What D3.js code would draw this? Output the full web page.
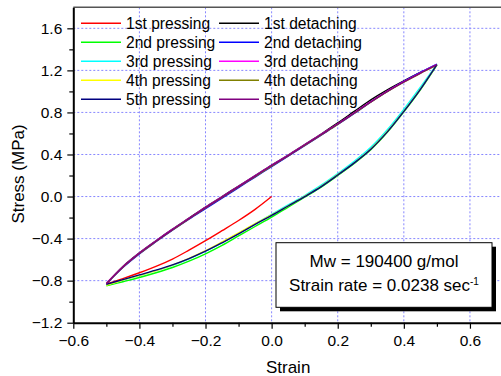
<!DOCTYPE html>
<html>
<head>
<meta charset="UTF-8" />
<script src="https://d3js.org/d3.v7.min.js"></script>
<style>
  body { margin: 0; background: #fff; }
  svg { display: block; font-family: "Liberation Sans", Arial, sans-serif; }
  .tick text { font-size: 15.5px; fill: #000; }
</style>
</head>
<body>
<svg width="501" height="376"></svg>
<script>
// strain points shared by the full branches
const strain = [-0.5, -0.45, -0.4, -0.35, -0.3, -0.25, -0.2, -0.15, -0.1, -0.05, 0,
                0.05, 0.1, 0.15, 0.2, 0.25, 0.3, 0.35, 0.4, 0.45, 0.5];
// first pressing only runs from 0 down to -0.5
const strainFirst = [-0.5, -0.45, -0.4, -0.35, -0.3, -0.25, -0.2, -0.15, -0.1, -0.05, 0];

const press1 = [-0.83, -0.78, -0.725, -0.665, -0.595, -0.51, -0.42, -0.325, -0.228, -0.122, 0.0];
const press2 = [-0.85, -0.81, -0.77, -0.725, -0.675, -0.615, -0.545, -0.465, -0.375, -0.285, -0.195,
                -0.1, -0.005, 0.09, 0.2, 0.315, 0.445, 0.61, 0.805, 1.015, 1.25];
const press3 = [-0.84, -0.795, -0.75, -0.705, -0.655, -0.592, -0.52, -0.438, -0.35, -0.26, -0.17,
                -0.08, 0.01, 0.108, 0.218, 0.335, 0.468, 0.635, 0.83, 1.04, 1.26];
const press4 = [-0.845, -0.795, -0.75, -0.705, -0.652, -0.588, -0.515, -0.432, -0.345, -0.258, -0.175,
                -0.088, 0.002, 0.098, 0.208, 0.322, 0.452, 0.618, 0.812, 1.022, 1.255];
const press5 = [-0.835, -0.79, -0.745, -0.7, -0.65, -0.59, -0.52, -0.44, -0.355, -0.265, -0.18,
                -0.09, 0.0, 0.095, 0.205, 0.32, 0.45, 0.615, 0.81, 1.02, 1.255];

const detach1 = [-0.83, -0.665, -0.535, -0.42, -0.31, -0.205, -0.1, 0.0, 0.1, 0.2, 0.3,
                 0.395, 0.495, 0.595, 0.7, 0.81, 0.92, 1.015, 1.1, 1.18, 1.255];
const detach2 = [-0.83, -0.675, -0.545, -0.43, -0.32, -0.215, -0.115, -0.015, 0.085, 0.185, 0.285,
                 0.385, 0.485, 0.585, 0.685, 0.79, 0.9, 1.0, 1.095, 1.18, 1.26];
const detach3 = [-0.825, -0.668, -0.538, -0.423, -0.313, -0.208, -0.103, -0.003, 0.097, 0.197, 0.297,
                 0.392, 0.492, 0.592, 0.692, 0.797, 0.902, 1.002, 1.092, 1.177, 1.255];
const detach4 = [-0.83, -0.672, -0.542, -0.428, -0.318, -0.212, -0.108, -0.008, 0.092, 0.19, 0.29,
                 0.387, 0.487, 0.587, 0.687, 0.792, 0.897, 0.997, 1.087, 1.172, 1.25];
const detach5 = [-0.83, -0.67, -0.54, -0.425, -0.315, -0.21, -0.105, -0.005, 0.095, 0.195, 0.295,
                 0.39, 0.49, 0.59, 0.69, 0.795, 0.9, 1.0, 1.09, 1.175, 1.255];

const seriesNames = ["1st pressing", "1st detaching", "2nd pressing", "2nd detaching",
  "3rd pressing", "3rd detaching", "4th pressing", "4th detaching", "5th pressing", "5th detaching"];
const seriesColors = ["#ff0000", "#000000", "#00ff00", "#0000ff", "#00ffff",
  "#ff00ff", "#ffff00", "#808000", "#000080", "#800080"];

const xTicks = [-0.6, -0.4, -0.2, 0.0, 0.2, 0.4, 0.6];
const xMinor = [-0.5, -0.3, -0.1, 0.1, 0.3, 0.5];
const yTicks = [-1.2, -0.8, -0.4, 0.0, 0.4, 0.8, 1.2, 1.6];
const yMinor = [-1.0, -0.6, -0.2, 0.2, 0.6, 1.0, 1.4];

const svg = d3.select("svg");
const plotL = 73.3, plotR = 503, plotT = 7.3, plotB = 322.7;

const x = d3.scaleLinear().domain([-0.6, 0.7]).range([plotL, plotR]);
const y = d3.scaleLinear().domain([-1.2, 1.8]).range([plotB, plotT]);

// grid
const grid = svg.append("g")
  .attr("stroke", "#6b6bff").attr("stroke-width", 1)
  .attr("stroke-dasharray", "2,2").attr("opacity", 0.8);
xTicks.slice(1).forEach(v => {
  grid.append("line").attr("x1", x(v)).attr("x2", x(v)).attr("y1", plotT).attr("y2", plotB);
});
yTicks.slice(1).forEach(v => {
  grid.append("line").attr("x1", plotL).attr("x2", plotR).attr("y1", y(v)).attr("y2", y(v));
});

// top frame
svg.append("line").attr("x1", plotL).attr("x2", plotR).attr("y1", plotT).attr("y2", plotT)
  .attr("stroke", "#555").attr("stroke-width", 1.5);

// curves
const curves = [
  { xs: strainFirst, ys: press1 },
  { xs: strain, ys: detach1 },
  { xs: strain, ys: press2 },
  { xs: strain, ys: detach2 },
  { xs: strain, ys: press3 },
  { xs: strain, ys: detach3 },
  { xs: strain, ys: press4 },
  { xs: strain, ys: detach4 },
  { xs: strain, ys: press5 },
  { xs: strain, ys: detach5 }
];
const line = d3.line().x(d => x(d[0])).y(d => y(d[1])).curve(d3.curveCatmullRom.alpha(0.5));
curves.forEach((c, i) => {
  svg.append("path")
    .datum(c.xs.map((v, j) => [v, c.ys[j]]))
    .attr("fill", "none")
    .attr("stroke", seriesColors[i])
    .attr("stroke-width", 1.4)
    .attr("d", line);
});

// axes
svg.append("g").attr("transform", `translate(0,${plotB})`)
  .call(d3.axisBottom(x).tickValues(xTicks).tickFormat(d3.format(".1f"))
    .tickSize(6).tickSizeOuter(0).tickPadding(6));
svg.append("g").attr("transform", `translate(0,${plotB})`)
  .call(d3.axisBottom(x).tickValues(xMinor).tickFormat("").tickSize(4).tickSizeOuter(0))
  .call(g => g.select(".domain").remove());

svg.append("g").attr("transform", `translate(${plotL},0)`)
  .call(d3.axisLeft(y).tickValues(yTicks).tickFormat(d3.format(".1f"))
    .tickSize(6).tickSizeOuter(0).tickPadding(5));
svg.append("g").attr("transform", `translate(${plotL},0)`)
  .call(d3.axisLeft(y).tickValues(yMinor).tickFormat("").tickSize(4).tickSizeOuter(0))
  .call(g => g.select(".domain").remove());

svg.selectAll("g[font-family]").attr("font-family", null).attr("font-size", null);
svg.selectAll(".domain").attr("stroke", "#000").attr("stroke-width", 2);
svg.selectAll(".tick line").attr("stroke", "#000").attr("stroke-width", 1.2);

// axis titles
svg.append("text").attr("x", (plotL + plotR) / 2).attr("y", 373)
  .attr("text-anchor", "middle").attr("font-size", 17).text("Strain");
svg.append("text").attr("transform", "translate(23.5,174) rotate(-90)")
  .attr("text-anchor", "middle").attr("font-size", 17).text("Stress (MPa)");

// legend
const legend = svg.append("g").attr("font-size", 15.6);
seriesNames.forEach((name, i) => {
  const col = i % 2, row = Math.floor(i / 2);
  const lx = col === 0 ? 81 : 219;
  const ly = 23.3 + row * 19;
  legend.append("line").attr("x1", lx).attr("x2", lx + 40).attr("y1", ly).attr("y2", ly)
    .attr("stroke", seriesColors[i]).attr("stroke-width", 1.4);
  legend.append("text").attr("x", lx + 45).attr("y", ly + 5.5).text(name);
});

// annotation box
const box = { x: 276, y: 242.7, w: 216, h: 64.6 };
svg.append("rect").attr("x", box.x + 4).attr("y", box.y + 4).attr("width", box.w).attr("height", box.h)
  .attr("fill", "#000");
svg.append("rect").attr("x", box.x).attr("y", box.y).attr("width", box.w).attr("height", box.h)
  .attr("fill", "#fff").attr("stroke", "#000").attr("stroke-width", 1);
const cx = box.x + box.w / 2;
svg.append("text").attr("x", cx).attr("y", 266.7).attr("text-anchor", "middle")
  .attr("font-size", 17).text("Mw = 190400 g/mol");
const t2 = svg.append("text").attr("x", cx).attr("y", 291).attr("text-anchor", "middle")
  .attr("font-size", 17);
t2.append("tspan").text("Strain rate = 0.0238 sec");
t2.append("tspan").attr("font-size", 10).attr("dy", -6).text("-1");
</script>
</body>
</html>
